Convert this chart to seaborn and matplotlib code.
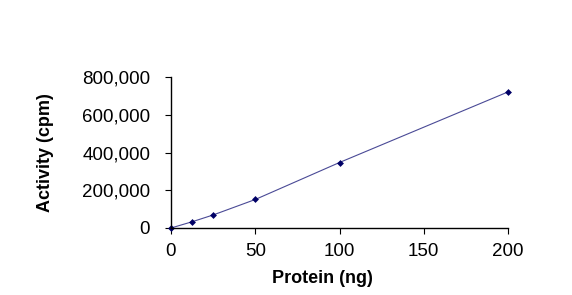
import matplotlib
matplotlib.use("Agg")
import matplotlib.pyplot as plt
import seaborn as sns
import pandas as pd
from matplotlib.ticker import FuncFormatter

protein = [0, 12.5, 25, 50, 100, 200]
activity = [0, 33000, 69000, 151000, 347000, 721000]
xticks = [0, 50, 100, 150, 200]
yticks = [0, 200000, 400000, 600000, 800000]

sns.set_style("ticks")
plt.rcParams['font.family'] = ['Liberation Sans', 'DejaVu Sans']

df = pd.DataFrame({"Protein": protein, "Activity": activity})
fig = plt.figure(figsize=(5.72, 2.95), dpi=100)
ax = fig.add_axes([171/572, 1-228/295, (508-171)/572, (228-77)/295])
sns.lineplot(data=df, x="Protein", y="Activity", ax=ax, color="#000066",
             linewidth=0.8, marker="D", markersize=3.5, markeredgewidth=0,
             markerfacecolor="#000066")
for m in ax.get_lines():
    m.set_clip_on(False)
    m.set_color("#4a4a96")
    m.set_markerfacecolor("#000066")
ax.set_xlim(0, 200)
ax.set_ylim(0, 800000)
ax.set_xticks(xticks)
ax.set_yticks(yticks)
ax.yaxis.set_major_formatter(FuncFormatter(lambda v, p: f"{int(v):,}"))
for s in ["top", "right"]:
    ax.spines[s].set_visible(False)
for s in ["left", "bottom"]:
    ax.spines[s].set_color("black")
    ax.spines[s].set_linewidth(1.0)
ax.tick_params(axis="both", labelsize=13.5, length=4, width=0.8, color="black",
               labelcolor="black")
ax.tick_params(axis="y", pad=11)
ax.tick_params(axis="x", pad=7)
ax.set_xlabel("Protein (ng)", fontsize=13, fontweight="bold", color="black")
ax.xaxis.set_label_coords((322-171)/337, (228-270)/151)
ax.set_ylabel("Activity (cpm)", fontsize=13, fontweight="bold", labelpad=20, color="black")
fig.savefig("out.png", dpi=100, facecolor="white")
